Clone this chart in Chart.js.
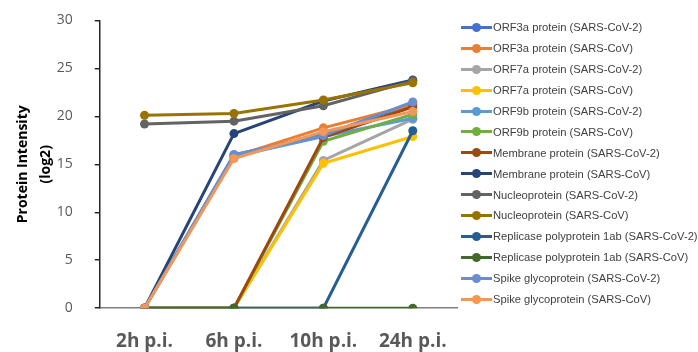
<!DOCTYPE html>
<html>
<head>
<meta charset="utf-8">
<script src="https://cdn.jsdelivr.net/npm/chart.js@4"></script>
<style>
  body { margin: 0; background: #fff; overflow: hidden; }
  #wrap { position: relative; width: 698px; height: 352px; overflow: hidden; }
  #chartBox { position: absolute; left: 0; top: -10px; width: 462px; height: 362px; }
  #legend { position: absolute; left: 461px; top: 17px; font-family: "Liberation Sans", Arial, sans-serif; font-size: 11.2px; color: #404040; }
  .item { height: 20.9px; display: flex; align-items: center; white-space: nowrap; }
  .mark { position: relative; width: 31px; height: 3px; margin-right: 1px; }
  .mark span { position: absolute; left: 11px; top: -3px; width: 9px; height: 9px; border-radius: 50%; }
</style>
</head>
<body>
<div id="wrap">
  <div id="chartBox"><canvas id="chart"></canvas></div>
  <div id="legend"></div>
</div>
<script>
const timePoints = ['2h p.i.', '6h p.i.', '10h p.i.', '24h p.i.'];

const seriesNames = [
  'ORF3a protein (SARS-CoV-2)',
  'ORF3a protein (SARS-CoV)',
  'ORF7a protein (SARS-CoV-2)',
  'ORF7a protein (SARS-CoV)',
  'ORF9b protein (SARS-CoV-2)',
  'ORF9b protein (SARS-CoV)',
  'Membrane protein (SARS-CoV-2)',
  'Membrane protein (SARS-CoV)',
  'Nucleoprotein (SARS-CoV-2)',
  'Nucleoprotein (SARS-CoV)',
  'Replicase polyprotein 1ab (SARS-CoV-2)',
  'Replicase polyprotein 1ab (SARS-CoV)',
  'Spike glycoprotein (SARS-CoV-2)',
  'Spike glycoprotein (SARS-CoV)'
];

// valores (log2)
const orf3aCoV2 = [0, 16.0, 18.1, 21.3];
const orf3aCoV = [0, 15.8, 18.8, 21.2];
const orf7aCoV2 = [0, 0, 15.4, 19.7];
const orf7aCoV = [0, 0, 15.1, 17.9];
const orf9bCoV2 = [0, 15.8, 17.9, 19.8];
const orf9bCoV = [0, 0, 17.4, 20.2];
const membraneCoV2 = [0, 0, 17.8, 21.0];
const membraneCoV = [0, 18.2, 21.6, 23.8];
const nucleoCoV2 = [19.2, 19.5, 21.1, 23.7];
const nucleoCoV = [20.1, 20.3, 21.7, 23.5];
const replicaseCoV2 = [0, 0, 0, 18.5];
const replicaseCoV = [0, 0, 0, 0];
const spikeCoV2 = [0, 16.0, 18.0, 21.5];
const spikeCoV = [0, 15.6, 18.4, 20.5];

const yTicks = [0, 5, 10, 15, 20, 25, 30];

const seriesValues = [
  orf3aCoV2, orf3aCoV, orf7aCoV2, orf7aCoV, orf9bCoV2, orf9bCoV,
  membraneCoV2, membraneCoV, nucleoCoV2, nucleoCoV,
  replicaseCoV2, replicaseCoV, spikeCoV2, spikeCoV
];

const colors = [
  '#4472C4', '#ED7D31', '#A5A5A5', '#FFC000', '#5B9BD5', '#70AD47',
  '#9E480E', '#264478', '#636363', '#997300', '#255E91', '#43682B',
  '#698ED0', '#F1975A'
];

const datasets = seriesNames.map((name, i) => ({
  label: name,
  data: seriesValues[i],
  borderColor: colors[i],
  backgroundColor: colors[i],
  borderWidth: 3,
  pointRadius: 4.5,
  pointHoverRadius: 4.5,
  pointBorderWidth: 0,
  tension: 0,
  // las series posteriores quedan encima, como en Excel
  order: seriesNames.length - i
}));

new Chart(document.getElementById('chart'), {
  type: 'line',
  data: { labels: timePoints, datasets: datasets },
  options: {
    responsive: true,
    maintainAspectRatio: false,
    animation: false,
    layout: { padding: { top: 0, right: 2, bottom: -15, left: 12 } },
    plugins: {
      legend: { display: false },
      tooltip: { enabled: false }
    },
    scales: {
      x: {
        offset: true,
        grid: { display: false },
        border: { color: '#7F7F7F', width: 1.5 },
        ticks: {
          padding: 14,
          color: '#595959',
          font: { family: 'Open Sans', size: 19, weight: 'bold' }
        }
      },
      y: {
        min: 0,
        max: 30,
        afterBuildTicks: axis => { axis.ticks = yTicks.map(v => ({ value: v })); },
        grid: { drawOnChartArea: false, drawTicks: true, tickLength: 5, color: '#262626', lineWidth: 1.5 },
        border: { color: '#262626', width: 1.5 },
        ticks: {
          padding: 22,
          color: '#595959',
          font: { family: 'Open Sans', size: 14 }
        },
        title: {
          display: true,
          text: ['Protein Intensity', '(log2)'],
          color: '#000',
          padding: { top: 0, bottom: -22 },
          font: { family: 'Open Sans', size: 14, weight: 'bold', lineHeight: 1.6 }
        }
      }
    }
  }
});

// leyenda a la derecha
const legend = document.getElementById('legend');
seriesNames.forEach((name, i) => {
  const item = document.createElement('div');
  item.classList.add('item');
  item.innerHTML = `<div class="mark" style="background:${colors[i]}"><span style="background:${colors[i]}"></span></div>${name}`;
  legend.appendChild(item);
});
</script>
</body>
</html>
